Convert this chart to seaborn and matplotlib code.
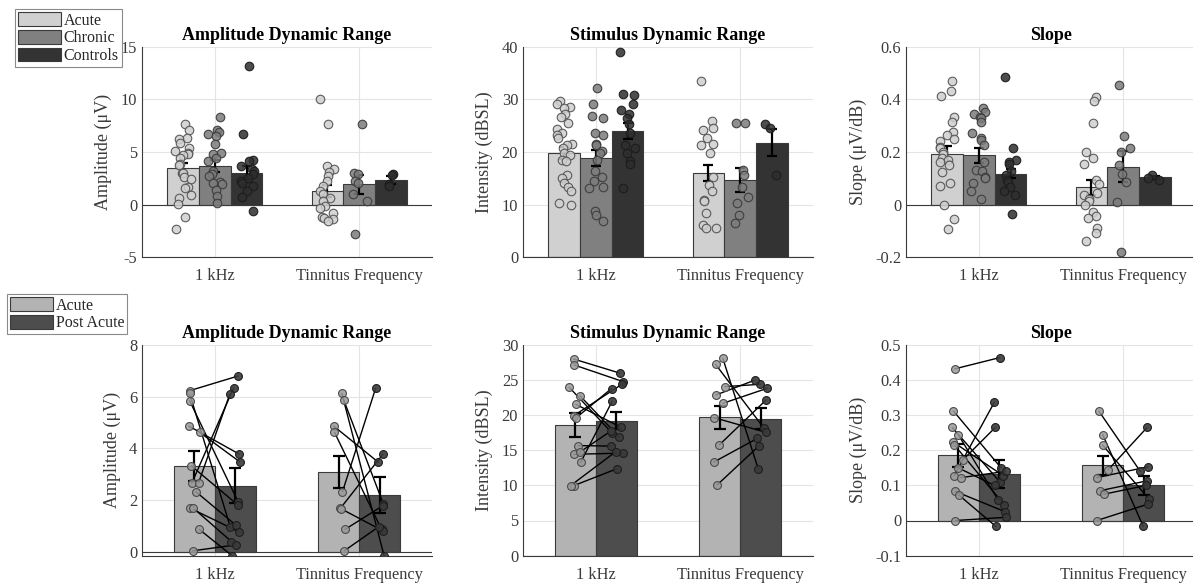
import numpy as np
import pandas as pd
import matplotlib
matplotlib.use("Agg")
import matplotlib.pyplot as plt
import seaborn as sns
from matplotlib.colors import to_rgba
from matplotlib.patches import Patch
from matplotlib.ticker import FuncFormatter

# ---------------- data ----------------
categories = ["1 kHz", "Tinnitus Frequency"]
groups_top = ["Acute", "Chronic", "Controls"]
groups_bot = ["Acute", "Post Acute"]

# Top row: bar means / SEM per group, order = categories
amp_mean_acute = [3.45, 1.30]
amp_mean_chronic = [3.67, 1.93]
amp_mean_controls = [3.04, 2.37]
amp_sem_acute = [0.50, 0.55]
amp_sem_chronic = [0.54, 0.90]
amp_sem_controls = [0.60, 0.37]

amp_acute_1k = [7.69, 7.06, 6.36, 6.2, 5.89, 5.41, 5.1, 4.87, 4.78, 4.68, 4.46, 3.83, 3.73,
                3.04, 2.97, 2.63, 2.41, 1.71, 1.55, 0.89, 0.66, 0.03, -1.14, -2.34]
amp_chronic_1k = [8.35, 7.06, 6.93, 6.68, 6.52, 5.73, 4.94, 4.78, 4.4, 4.15, 3.2, 2.88, 2.72,
                  2.18, 2.09, 1.93, 1.36, 0.82, 0.19]
amp_controls_1k = [13.13, 6.68, 4.21, 4.15, 3.67, 3.35, 3.2, 2.88, 2.56, 2.25, 2.09, 1.77, 1.3,
                   0.76, -0.6]
amp_acute_tf = [10.06, 7.63, 3.67, 3.35, 3.13, 2.72, 2.25, 1.77, 1.3, 0.98, 0.6, 0.35, -0.13,
                -0.35, -0.76, -1.17, -1.23, -1.39, -1.55]
amp_chronic_tf = [7.63, 3.04, 2.94, 2.25, 2.09, 1.04, 0.35, -2.75]
amp_controls_tf = [2.88, 2.8, 2.0, 1.77]

stim_mean_acute = [19.75, 15.95]
stim_mean_chronic = [18.8, 14.7]
stim_mean_controls = [24.0, 21.8]
stim_sem_acute = [1.15, 1.55]
stim_sem_chronic = [1.5, 2.3]
stim_sem_controls = [1.5, 2.6]

stim_acute_1k = [29.6, 29.05, 28.6, 28.3, 27.3, 26.7, 25.6, 24.4, 23.7, 23.2, 22.6, 21.6, 21.3,
                 20.7, 19.9, 19.4, 18.5, 18.2, 15.6, 15.0, 14.05, 13.4, 12.5, 10.25, 9.94]
stim_chronic_1k = [32.1, 29.05, 26.9, 26.5, 23.7, 23.2, 21.6, 21.3, 20.1, 19.75, 18.5, 16.3,
                   15.3, 14.4, 13.4, 13.1, 8.8, 8.0, 6.8]
stim_controls_1k = [38.9, 31.1, 30.9, 29.2, 28.0, 27.2, 26.4, 25.3, 23.7, 21.3, 20.7, 19.75,
                    18.2, 17.7, 13.1]
stim_acute_tf = [33.5, 25.9, 24.5, 24.2, 22.6, 21.6, 21.3, 19.9, 15.3, 13.7, 12.5, 10.9, 10.6,
                 8.35, 6.1, 5.6, 5.5]
stim_chronic_tf = [25.6, 25.6, 16.6, 15.6, 13.4, 11.5, 10.25, 8.0, 6.45]
stim_controls_tf = [25.4, 24.6, 15.6]

slope_mean_acute = [0.194, 0.066]
slope_mean_chronic = [0.187, 0.144]
slope_mean_controls = [0.118, 0.104]
slope_sem_acute = [0.027, 0.028]
slope_sem_chronic = [0.028, 0.058]
slope_sem_controls = [0.018, 0.005]

slope_acute_1k = [0.471, 0.432, 0.413, 0.334, 0.313, 0.277, 0.265, 0.25, 0.242, 0.22, 0.214,
                  0.199, 0.191, 0.176, 0.17, 0.163, 0.151, 0.125, 0.081, 0.072, 0.0, -0.054, -0.094]
slope_chronic_1k = [0.366, 0.353, 0.343, 0.334, 0.330, 0.313, 0.273, 0.255, 0.246, 0.227, 0.163,
                    0.132, 0.128, 0.106, 0.1, 0.081, 0.052, 0.022]
slope_controls_1k = [0.484, 0.214, 0.17, 0.161, 0.153, 0.128, 0.113, 0.094, 0.087, 0.068, 0.052,
                     0.037, -0.037]
slope_acute_tf = [0.408, 0.394, 0.309, 0.199, 0.179, 0.153, 0.094, 0.077, 0.043, 0.037, 0.022,
                  0.014, 0.0, -0.027, -0.042, -0.052, -0.09, -0.109, -0.138]
slope_chronic_tf = [0.455, 0.261, 0.214, 0.199, 0.151, 0.115, 0.085, 0.009, -0.181]
slope_controls_tf = [0.113, 0.1, 0.094]

# Bottom row (paired: acute -> post acute)
pamp_mean_acute = [3.30, 3.08]
pamp_mean_post = [2.55, 2.19]
pamp_sem_acute = [0.58, 0.61]
pamp_sem_post = [0.68, 0.68]
pamp_acute_1k = [6.23, 6.13, 5.85, 4.86, 4.62, 3.32, 2.65, 2.67, 2.32, 1.68, 1.68, 0.86, 0.03]
pamp_post_1k = [6.80, 0.97, 1.91, 3.78, 3.48, 1.81, 6.35, 6.09, 1.03, 0.77, 0.39, -0.17, 0.26]
pamp_acute_tf = [6.13, 5.87, 4.86, 4.62, 2.32, 1.68, 1.65, 0.86, 0.03]
pamp_post_tf = [-0.17, 1.85, 3.46, 0.86, 6.32, 3.78, 0.80, 1.77, 0.97]

pstim_mean_acute = [18.6, 19.7]
pstim_mean_post = [19.2, 19.5]
pstim_sem_acute = [1.66, 1.66]
pstim_sem_post = [1.2, 1.5]
pstim_acute_1k = [28.0, 27.15, 23.97, 22.8, 21.55, 19.94, 19.6, 15.67, 14.43, 14.72, 13.3, 9.97, 9.97]
pstim_post_1k = [26.0, 24.8, 17.5, 16.9, 18.3, 24.4, 23.8, 15.6, 14.6, 17.8, 22.0, 12.4, 14.8]
pstim_acute_tf = [28.1, 27.25, 24.07, 22.88, 21.7, 19.65, 15.76, 13.3, 10.07]
pstim_post_tf = [12.34, 18.23, 24.4, 25.0, 23.83, 17.57, 22.17, 16.7, 15.67]

pslope_mean_acute = [0.186, 0.157]
pslope_mean_post = [0.133, 0.100]
pslope_sem_acute = [0.033, 0.027]
pslope_sem_post = [0.040, 0.027]
pslope_acute_1k = [0.432, 0.312, 0.265, 0.244, 0.223, 0.216, 0.173, 0.15, 0.128, 0.122, 0.083, 0.073, 0.0]
pslope_post_1k = [0.464, 0.15, 0.11, 0.059, 0.128, 0.045, 0.265, 0.1, 0.337, 0.14, 0.025, -0.017, 0.009]
pslope_acute_tf = [0.312, 0.245, 0.215, 0.144, 0.122, 0.085, 0.075, 0.0]
pslope_post_tf = [0.14, -0.017, 0.062, 0.265, 0.153, 0.113, 0.1, 0.047]

# ---------------- style ----------------
top_bar_colors = {"Acute": "#d0d0d0", "Chronic": "#808080", "Controls": "#333333"}
top_pt_face = {"Acute": "#cfcfcf", "Chronic": "#7c7c7c", "Controls": "#2e2e2e"}
top_pt_edge = {"Acute": "#555555", "Chronic": "#3c3c3c", "Controls": "#1c1c1c"}
bot_bar_colors = {"Acute": "#b3b3b3", "Post Acute": "#4d4d4d"}
bot_pt_face = {"Acute": "#9a9a9a", "Post Acute": "#3a3a3a"}
bot_pt_edge = {"Acute": "#4a4a4a", "Post Acute": "#1e1e1e"}
AX_COLOR = "#3a3a3a"

sns.set_style("white")
plt.rcParams["font.family"] = ["Liberation Serif", "DejaVu Serif"]
plt.rcParams["axes.unicode_minus"] = False

W, H = 1193, 583
fig = plt.figure(figsize=(W / 100, H / 100), dpi=100)

def ax_at(left_px, top_px, w_px, h_px):
    return fig.add_axes([left_px / W, 1 - (top_px + h_px) / H, w_px / W, h_px / H])

rng = np.random.default_rng(7)

def offsets(n, width):
    each = width / n
    return (np.arange(n) - (n - 1) / 2) * each

def style_axis(ax, ylim, yticks, ylabel, title):
    ax.set_xlim(-0.505, 1.505)
    ax.set_ylim(*ylim)
    ax.set_yticks(yticks)
    ax.yaxis.set_major_formatter(FuncFormatter(lambda v, p: f"{v:g}"))
    ax.set_xticks([0, 1])
    ax.set_xticklabels(categories)
    ax.set_xlabel("")
    ax.set_ylabel(ylabel, fontsize=13, color=AX_COLOR, labelpad=6)
    ax.set_title(title, fontsize=13, fontweight="bold", color="black", pad=5)
    ax.grid(True, color="#e4e4e4", linewidth=0.8)
    ax.set_axisbelow(True)
    for s in ["top", "right"]:
        ax.spines[s].set_visible(False)
    for s in ["left", "bottom"]:
        ax.spines[s].set_color(AX_COLOR)
        ax.spines[s].set_linewidth(0.8)
    ax.tick_params(axis="both", labelsize=11.8, colors=AX_COLOR, direction="in", length=3, width=0.6)
    ax.tick_params(axis="x", pad=8)
    ax.axhline(0, color=AX_COLOR, linewidth=0.8, zorder=2.5)

def top_panel(ax, means, sems, points, ylim, yticks, ylabel, title):
    rows = []
    for g in groups_top:
        for i, c in enumerate(categories):
            rows.append((c, g, means[g][i]))
    df = pd.DataFrame(rows, columns=["freq", "group", "value"])
    width = 0.66
    sns.barplot(data=df, x="freq", y="value", hue="group", order=categories,
                hue_order=groups_top, palette=top_bar_colors, saturation=1, width=width,
                errorbar=None, edgecolor="#3a3a3a", linewidth=0.8, legend=False, ax=ax, zorder=2)
    offs = offsets(len(groups_top), width)
    for k, g in enumerate(groups_top):
        xs = np.arange(len(categories)) + offs[k]
        ax.errorbar(xs, means[g], yerr=sems[g], fmt="none", ecolor="black",
                    elinewidth=1.6, capsize=3.5, capthick=1.6, zorder=3)
    for k, g in enumerate(groups_top):
        for i, c in enumerate(categories):
            vals = np.asarray(points[(g, c)])
            x = i + offs[k] + rng.uniform(-0.055, 0.055, len(vals))
            ax.scatter(x, vals, s=38, facecolors=[to_rgba(top_pt_face[g], 0.85)],
                       edgecolors=[to_rgba(top_pt_edge[g], 0.95)], linewidths=0.8, zorder=4)
    style_axis(ax, ylim, yticks, ylabel, title)

def bottom_panel(ax, means, sems, pairs, ylim, yticks, ylabel, title):
    rows = []
    for g in groups_bot:
        for i, c in enumerate(categories):
            rows.append((c, g, means[g][i]))
    df = pd.DataFrame(rows, columns=["freq", "group", "value"])
    width = 0.57
    sns.barplot(data=df, x="freq", y="value", hue="group", order=categories,
                hue_order=groups_bot, palette=bot_bar_colors, saturation=1, width=width,
                errorbar=None, edgecolor="#3a3a3a", linewidth=0.8, legend=False, ax=ax, zorder=2)
    offs = offsets(len(groups_bot), width)
    for k, g in enumerate(groups_bot):
        xs = np.arange(len(categories)) + offs[k]
        ax.errorbar(xs, means[g], yerr=sems[g], fmt="none", ecolor="black",
                    elinewidth=1.6, capsize=4, capthick=1.6, zorder=3)
    for i, c in enumerate(categories):
        a_vals = np.asarray(pairs[c][0])
        p_vals = np.asarray(pairs[c][1])
        xa = i + offs[0] + rng.uniform(-0.045, 0.045, len(a_vals))
        xp = i + offs[1] + rng.uniform(-0.045, 0.045, len(p_vals))
        for j in range(len(a_vals)):
            ax.plot([xa[j], xp[j]], [a_vals[j], p_vals[j]], color="black", linewidth=1.0, zorder=4)
        ax.scatter(xa, a_vals, s=32, facecolors=[to_rgba(bot_pt_face["Acute"], 0.85)],
                   edgecolors=[bot_pt_edge["Acute"]], linewidths=0.8, zorder=5)
        ax.scatter(xp, p_vals, s=32, facecolors=[to_rgba(bot_pt_face["Post Acute"], 0.9)],
                   edgecolors=[bot_pt_edge["Post Acute"]], linewidths=0.8, zorder=5)
    style_axis(ax, ylim, yticks, ylabel, title)

lefts = [142, 523, 906]
aw, ah = 290, 210.6

# ---- top row ----
ax = ax_at(lefts[0], 46.7, aw, ah)
top_panel(ax,
          {"Acute": amp_mean_acute, "Chronic": amp_mean_chronic, "Controls": amp_mean_controls},
          {"Acute": amp_sem_acute, "Chronic": amp_sem_chronic, "Controls": amp_sem_controls},
          {("Acute", categories[0]): amp_acute_1k, ("Chronic", categories[0]): amp_chronic_1k,
           ("Controls", categories[0]): amp_controls_1k, ("Acute", categories[1]): amp_acute_tf,
           ("Chronic", categories[1]): amp_chronic_tf, ("Controls", categories[1]): amp_controls_tf},
          (-5, 15), [-5, 0, 5, 10, 15], "Amplitude (μV)", "Amplitude Dynamic Range")

ax = ax_at(lefts[1], 46.7, aw, ah)
top_panel(ax,
          {"Acute": stim_mean_acute, "Chronic": stim_mean_chronic, "Controls": stim_mean_controls},
          {"Acute": stim_sem_acute, "Chronic": stim_sem_chronic, "Controls": stim_sem_controls},
          {("Acute", categories[0]): stim_acute_1k, ("Chronic", categories[0]): stim_chronic_1k,
           ("Controls", categories[0]): stim_controls_1k, ("Acute", categories[1]): stim_acute_tf,
           ("Chronic", categories[1]): stim_chronic_tf, ("Controls", categories[1]): stim_controls_tf},
          (0, 40), [0, 10, 20, 30, 40], "Intensity (dBSL)", "Stimulus Dynamic Range")

ax = ax_at(lefts[2], 46.7, aw, ah)
top_panel(ax,
          {"Acute": slope_mean_acute, "Chronic": slope_mean_chronic, "Controls": slope_mean_controls},
          {"Acute": slope_sem_acute, "Chronic": slope_sem_chronic, "Controls": slope_sem_controls},
          {("Acute", categories[0]): slope_acute_1k, ("Chronic", categories[0]): slope_chronic_1k,
           ("Controls", categories[0]): slope_controls_1k, ("Acute", categories[1]): slope_acute_tf,
           ("Chronic", categories[1]): slope_chronic_tf, ("Controls", categories[1]): slope_controls_tf},
          (-0.2, 0.6), [-0.2, 0, 0.2, 0.4, 0.6], "Slope (μV/dB)", "Slope")

# ---- bottom row ----
ax = ax_at(lefts[0], 345, aw, ah)
bottom_panel(ax, {"Acute": pamp_mean_acute, "Post Acute": pamp_mean_post},
             {"Acute": pamp_sem_acute, "Post Acute": pamp_sem_post},
             {categories[0]: (pamp_acute_1k, pamp_post_1k), categories[1]: (pamp_acute_tf, pamp_post_tf)},
             (-0.155, 8), [0, 2, 4, 6, 8], "Amplitude (μV)", "Amplitude Dynamic Range")

ax = ax_at(lefts[1], 345, aw, ah)
bottom_panel(ax, {"Acute": pstim_mean_acute, "Post Acute": pstim_mean_post},
             {"Acute": pstim_sem_acute, "Post Acute": pstim_sem_post},
             {categories[0]: (pstim_acute_1k, pstim_post_1k), categories[1]: (pstim_acute_tf, pstim_post_tf)},
             (0, 30), [0, 5, 10, 15, 20, 25, 30], "Intensity (dBSL)", "Stimulus Dynamic Range")

ax = ax_at(lefts[2], 345, aw, ah)
bottom_panel(ax, {"Acute": pslope_mean_acute, "Post Acute": pslope_mean_post},
             {"Acute": pslope_sem_acute, "Post Acute": pslope_sem_post},
             {categories[0]: (pslope_acute_1k, pslope_post_1k), categories[1]: (pslope_acute_tf, pslope_post_tf)},
             (-0.1, 0.5), [-0.1, 0, 0.1, 0.2, 0.3, 0.4, 0.5], "Slope (μV/dB)", "Slope")

# ---- legends ----
leg_kw = dict(loc="upper left", borderaxespad=0, fontsize=11.5, handlelength=2.7,
              handleheight=0.95, handletextpad=0.15, labelspacing=0.08, borderpad=0.2,
              frameon=True, fancybox=False, framealpha=1, edgecolor="#8a8a8a")
h_top = [Patch(facecolor=top_bar_colors[g], edgecolor="#3a3a3a", linewidth=0.8, label=g) for g in groups_top]
lg = fig.legend(handles=h_top, bbox_to_anchor=(15 / W, 1 - 9 / H), **leg_kw)
lg.get_frame().set_linewidth(0.8)
h_bot = [Patch(facecolor=bot_bar_colors[g], edgecolor="#3a3a3a", linewidth=0.8, label=g) for g in groups_bot]
lg2 = fig.legend(handles=h_bot, bbox_to_anchor=(7 / W, 1 - 294 / H), **leg_kw)
lg2.get_frame().set_linewidth(0.8)

fig.savefig("out.png", dpi=100)
